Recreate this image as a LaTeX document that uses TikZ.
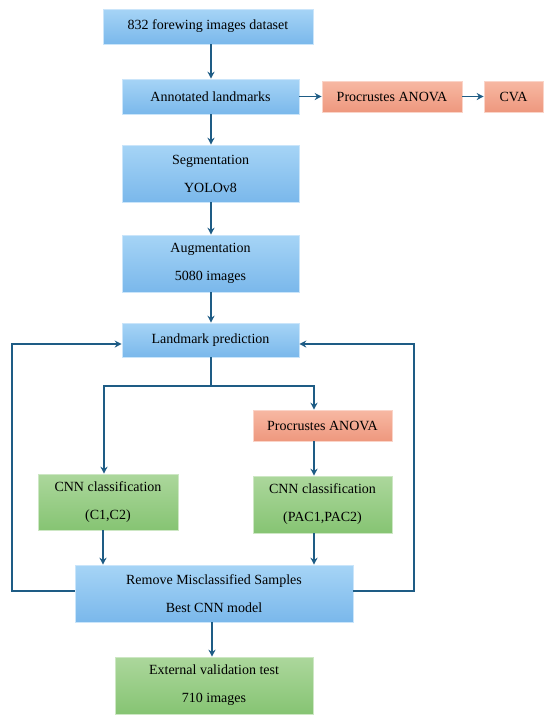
\documentclass[tikz,border=0pt]{standalone}
\usepackage{fontspec}
\setmainfont{Liberation Serif}
\usetikzlibrary{arrows.meta,shadings}
\definecolor{bluetop}{RGB}{166,212,246}
\definecolor{bluebot}{RGB}{122,184,235}
\definecolor{orgtop}{RGB}{247,184,163}
\definecolor{orgbot}{RGB}{238,152,126}
\definecolor{grntop}{RGB}{172,215,156}
\definecolor{grnbot}{RGB}{134,196,115}
\definecolor{arrowc}{RGB}{30,92,133}
\tikzset{
  box/.style={rectangle, inner sep=0pt, align=center, font=\fontsize{14}{28}\selectfont},
  bluebox/.style={box, top color=bluetop, bottom color=bluebot, draw=bluetop!60!white, line width=0.6pt},
  orgbox/.style={box, top color=orgtop, bottom color=orgbot, draw=orgtop!60!white, line width=0.6pt},
  grnbox/.style={box, top color=grntop, bottom color=grnbot, draw=grntop!60!white, line width=0.6pt},
  conn/.style={draw=arrowc, line width=1.4pt},
  arr/.style={conn, -{Stealth[length=7pt,width=7pt]}}
}
\begin{document}
\begin{tikzpicture}[x=1pt,y=-1pt]
\useasboundingbox (0,0) rectangle (550,724);
\node[bluebox, minimum width=210pt, minimum height=35pt] (b1) at (208,26.5) {832 forewing images dataset};
\node[bluebox, minimum width=177pt, minimum height=35pt] (b2) at (210.5,96.5) {Annotated landmarks};
\node[orgbox, minimum width=140pt, minimum height=31pt] (pa1) at (392,96.5) {Procrustes ANOVA};
\node[orgbox, minimum width=59pt, minimum height=31pt] (cva) at (513.5,96.5) {CVA};
\node[bluebox, minimum width=177pt, minimum height=57pt] (seg) at (210.5,173.5) {Segmentation\\YOLOv8};
\node[bluebox, minimum width=177pt, minimum height=57pt] (aug) at (210.5,263.5) {Augmentation\\5080 images};
\node[bluebox, minimum width=177pt, minimum height=34pt] (lp) at (210.5,340) {Landmark prediction};
\node[orgbox, minimum width=139pt, minimum height=31pt] (pa2) at (322.5,425.5) {Procrustes ANOVA};
\node[grnbox, minimum width=140pt, minimum height=56pt] (cnn1) at (108,502) {CNN classification\\(C1,C2)};
\node[grnbox, minimum width=139pt, minimum height=57pt] (cnn2) at (322.5,504.5) {CNN classification\\(PAC1,PAC2)};
\node[bluebox, minimum width=278pt, minimum height=57pt] (rm) at (214,593.5) {Remove Misclassified Samples\\Best CNN model};
\node[grnbox, minimum width=198pt, minimum height=57pt] (ext) at (214,685.5) {External validation test\\710 images};
% connectors
\draw[arr] (b1.south -| 211,0) -- (b2.north -| 211,0);
\draw[arr] (b2.east) -- (pa1.west);
\draw[arr] (pa1.east) -- (cva.west);
\draw[arr] (b2.south -| 211,0) -- (seg.north -| 211,0);
\draw[arr] (seg.south -| 211,0) -- (aug.north -| 211,0);
\draw[arr] (aug.south -| 211,0) -- (lp.north -| 211,0);
\coordinate (br) at (211,386);
\coordinate (brl) at (104,386);
\coordinate (brr) at (314,386);
\draw[conn] (lp.south -| 211,0) -- (br);
\draw[arr] (br) -- (brl) -- (cnn1.north -| brl);
\draw[arr] (br) -- (brr) -- (pa2.north -| brr);
\draw[arr] (pa2.south -| brr) -- (cnn2.north -| brr);
\draw[arr] (cnn1.south -| 103,0) -- (rm.north -| 103,0);
\draw[arr] (cnn2.south -| brr) -- (rm.north -| brr);
\draw[arr] (rm.south -| 212,0) -- (ext.north -| 212,0);
\coordinate (ll1) at (12,591);
\coordinate (ll2) at (12,344);
\coordinate (rl1) at (414,591);
\coordinate (rl2) at (414,344);
\draw[arr] (rm.west |- ll1) -- (ll1) -- (ll2) -- (lp.west |- ll2);
\draw[arr] (rm.east |- rl1) -- (rl1) -- (rl2) -- (lp.east |- rl2);
\end{tikzpicture}
\end{document}
